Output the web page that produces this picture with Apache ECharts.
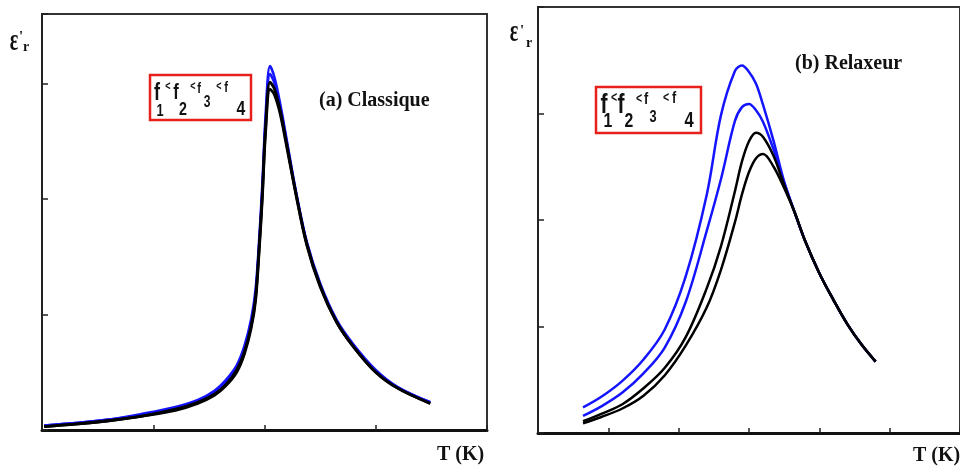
<!DOCTYPE html>
<html>
<head>
<meta charset="utf-8">
<script src="https://cdn.jsdelivr.net/npm/echarts@6/dist/echarts.min.js"></script>
<style>
  html, body { margin: 0; padding: 0; background: #fff; }
  #chart { width: 960px; height: 470px; }
</style>
</head>
<body>
<div id="chart"></div>
<script>
// (a) Classic ferroelectric: permittivity vs temperature (arbitrary units)
const tempA = [0.02, 0.3, 0.6, 0.9, 1.2, 1.4, 1.55, 1.65, 1.75, 1.82, 1.88, 1.92, 1.95, 1.98, 2.01, 2.05, 2.09, 2.14, 2.2, 2.28, 2.38, 2.5, 2.65, 2.8, 3.0, 3.2, 3.49];
const classicF1 = [0.04, 0.06, 0.09, 0.14, 0.2, 0.26, 0.34, 0.43, 0.56, 0.73, 0.96, 1.22, 1.62, 2.12, 2.73, 3.15, 3.05, 2.83, 2.51, 2.08, 1.63, 1.27, 0.95, 0.74, 0.52, 0.37, 0.24];
const classicF2 = [0.04, 0.06, 0.09, 0.13, 0.19, 0.25, 0.32, 0.41, 0.54, 0.7, 0.93, 1.18, 1.58, 2.07, 2.67, 3.08, 3.0, 2.8, 2.49, 2.07, 1.62, 1.26, 0.94, 0.73, 0.51, 0.37, 0.24];
const classicF3 = [0.03, 0.05, 0.08, 0.12, 0.18, 0.24, 0.31, 0.39, 0.52, 0.68, 0.9, 1.15, 1.55, 2.03, 2.62, 3.01, 2.95, 2.77, 2.47, 2.06, 1.61, 1.25, 0.93, 0.72, 0.5, 0.36, 0.23];
const classicF4 = [0.03, 0.05, 0.08, 0.12, 0.17, 0.23, 0.3, 0.38, 0.5, 0.66, 0.88, 1.12, 1.52, 2.0, 2.58, 2.95, 2.9, 2.74, 2.45, 2.05, 1.6, 1.24, 0.93, 0.72, 0.5, 0.36, 0.23];

// (b) Relaxor: frequency-dispersed permittivity peaks
const tempB = [0.64, 0.9, 1.2, 1.5, 1.8, 2.1, 2.4, 2.6, 2.8, 2.9, 3.0, 3.1, 3.2, 3.35, 3.5, 3.65, 3.8, 4.0, 4.2, 4.4, 4.6, 4.8];
const relaxF1 = [0.24, 0.34, 0.49, 0.69, 0.97, 1.47, 2.24, 2.98, 3.4, 3.45, 3.39, 3.28, 3.08, 2.74, 2.36, 2.07, 1.8, 1.5, 1.25, 1.02, 0.83, 0.67];
const relaxF2 = [0.16, 0.25, 0.38, 0.56, 0.8, 1.23, 1.9, 2.38, 2.93, 3.06, 3.09, 3.03, 2.92, 2.66, 2.35, 2.07, 1.8, 1.5, 1.25, 1.02, 0.83, 0.67];
const relaxF3 = [0.11, 0.18, 0.27, 0.42, 0.61, 0.9, 1.36, 1.75, 2.27, 2.55, 2.74, 2.82, 2.78, 2.6, 2.33, 2.07, 1.8, 1.5, 1.25, 1.02, 0.83, 0.67];
const relaxF4 = [0.09, 0.15, 0.23, 0.35, 0.54, 0.82, 1.18, 1.53, 1.98, 2.24, 2.45, 2.58, 2.62, 2.5, 2.3, 2.07, 1.8, 1.5, 1.25, 1.02, 0.83, 0.67];

// Frequency ordering legend, one glyph per entry: [text, centre x, centre y, font size]
const freqGlyphsA = [
  ['f', 157, 93, 24], ['1', 160, 111, 17], ['<', 168, 87, 12],
  ['f', 176, 93, 22], ['2', 183, 110, 19], ['<', 193, 87, 12],
  ['f', 199, 89, 15], ['3', 207, 103, 16], ['<', 219, 87, 12],
  ['f', 226, 88, 15], ['4', 241, 109, 21]
];
const freqGlyphsB = [
  ['f', 604, 105, 28], ['1', 608, 121, 21], ['<', 614, 98, 14],
  ['f', 621, 105, 28], ['2', 629, 121, 21], ['<', 639, 99, 14],
  ['f', 646, 99, 17], ['3', 653, 117, 17], ['<', 666, 98, 14],
  ['f', 674, 98, 17], ['4', 689, 121, 22]
];

const BLUE = '#1414ff';
const BLACK = '#000000';

function pairs(xs, ys) { return xs.map((x, i) => [x, ys[i]]); }

function curve(name, xs, ys, color, idx, width) {
  return {
    name: name, type: 'line', xAxisIndex: idx, yAxisIndex: idx,
    data: pairs(xs, ys), showSymbol: false, smooth: 0.35,
    lineStyle: { color: color, width: width }, animation: false
  };
}

function axisX(idx, max) {
  return {
    type: 'value', gridIndex: idx, min: 0, max: max, interval: 1,
    axisLine: { show: true, lineStyle: { color: '#111', width: 3 } },
    axisTick: { show: true, inside: true, length: 5, lineStyle: { color: '#222', width: 1.5 } },
    axisLabel: { show: false }, splitLine: { show: false }
  };
}
function axisY(idx, max) {
  return {
    type: 'value', gridIndex: idx, min: 0, max: max, interval: 1,
    axisLine: { show: true, lineStyle: { color: '#222', width: 2 } },
    axisTick: { show: true, inside: true, length: 6, lineStyle: { color: '#222', width: 1.5 } },
    axisLabel: { show: false }, splitLine: { show: false }
  };
}

const serif = '"Liberation Serif", "DejaVu Serif", serif';
const sans = '"Liberation Sans", Arial, sans-serif';

function glyph(t, x, y, size, family, sx, sy) {
  return {
    type: 'text', x: x, y: y,
    scaleX: sx || 1, scaleY: sy || 1, originX: 0, originY: 0,
    style: {
      text: t, fontFamily: family, fontWeight: 'bold', fontSize: size,
      fill: '#111', align: 'center', verticalAlign: 'middle'
    }
  };
}

// ε'r axis label: tall epsilon, prime, subscript r
function epsLabel(ex, ey, px, py, rx, ry) {
  return [
    glyph('ε', ex, ey, 20, serif, 1, 1.6),
    glyph("'", px, py, 15, serif),
    glyph('r', rx, ry, 14, serif)
  ];
}

const chart = echarts.init(document.getElementById('chart'), null, { renderer: 'canvas' });
chart.setOption({
  backgroundColor: '#ffffff',
  animation: false,
  grid: [
    { left: 42, top: 14, width: 445, height: 416, show: true, borderColor: '#333', borderWidth: 2 },
    { left: 538, top: 7, right: -2, height: 426, show: true, borderColor: '#333', borderWidth: 2 }
  ],
  xAxis: [axisX(0, 4), axisX(1, 6)],
  yAxis: [axisY(0, 3.6), axisY(1, 4)],
  series: [
    curve('f1', tempA, classicF1, BLUE, 0, 2.5),
    curve('f2', tempA, classicF2, BLUE, 0, 2.5),
    curve('f3', tempA, classicF3, BLACK, 0, 2.8),
    curve('f4', tempA, classicF4, BLACK, 0, 2.8),
    curve('f1', tempB, relaxF1, BLUE, 1, 2.5),
    curve('f2', tempB, relaxF2, BLUE, 1, 2.5),
    curve('f3', tempB, relaxF3, BLACK, 1, 2.5),
    curve('f4', tempB, relaxF4, BLACK, 1, 2.5)
  ],
  graphic: [].concat(
    epsLabel(14, 42, 21, 37, 26, 47),
    epsLabel(514, 33, 522, 31, 529, 43),
    [
      { type: 'text', left: 437, top: 445, style: { text: 'T (K)', fontFamily: serif, fontWeight: 'bold', fontSize: 20, fill: '#111' } },
      { type: 'text', left: 913, top: 446, style: { text: 'T (K)', fontFamily: serif, fontWeight: 'bold', fontSize: 20, fill: '#111' } },
      { type: 'text', left: 319, top: 91, style: { text: '(a) Classique', fontFamily: serif, fontWeight: 'bold', fontSize: 20, fill: '#111' } },
      { type: 'text', left: 795, top: 54, style: { text: '(b) Relaxeur', fontFamily: serif, fontWeight: 'bold', fontSize: 20, fill: '#111' } },
      { type: 'rect', shape: { x: 150, y: 75, width: 101, height: 45 }, style: { fill: '#fff', stroke: '#e8201c', lineWidth: 2.5 } },
      { type: 'rect', shape: { x: 596, y: 87, width: 105, height: 46 }, style: { fill: '#fff', stroke: '#e8201c', lineWidth: 2.5 } }
    ],
    freqGlyphsA.map(g => glyph(g[0], g[1], g[2], g[3], sans, 0.75, 1)),
    freqGlyphsB.map(g => glyph(g[0], g[1], g[2], g[3], sans, 0.75, 1))
  )
});
</script>
</body>
</html>
